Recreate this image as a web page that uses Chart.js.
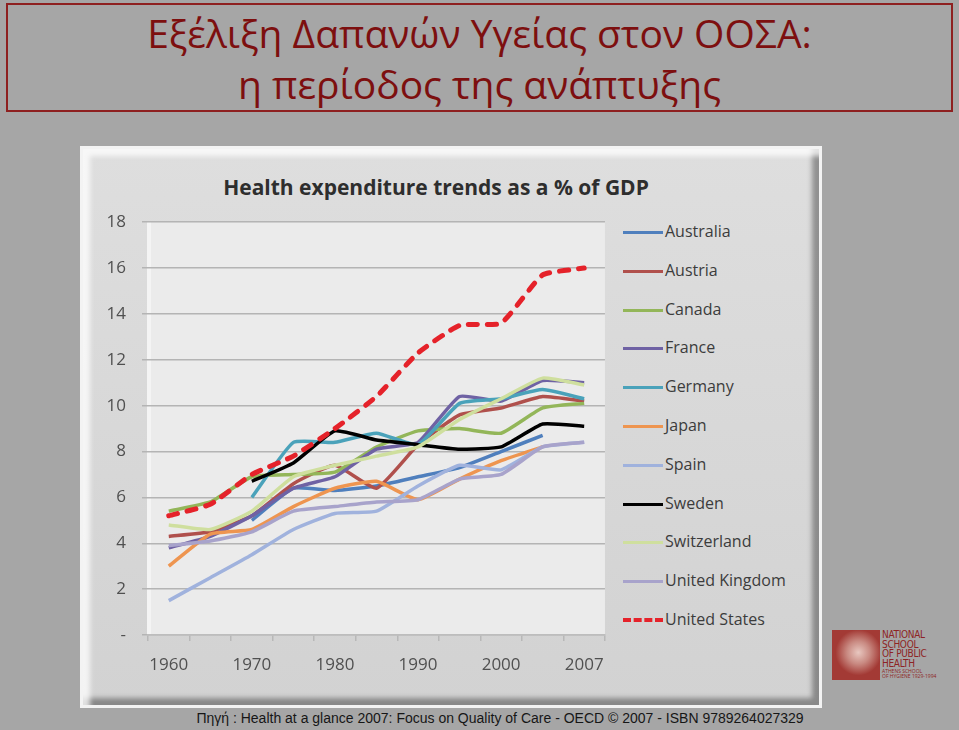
<!DOCTYPE html>
<html>
<head>
<meta charset="utf-8">
<script src="https://cdn.jsdelivr.net/npm/chart.js@4.4.1/dist/chart.umd.min.js"></script>
<style>
    body { margin: 0; width: 959px; height: 730px; overflow: hidden; background: #a6a6a6; position: relative; font-family: 'Open Sans', sans-serif; }
    .title-box { position: absolute; left: 6px; top: 3px; width: 943px; height: 105px; border: 2px solid #8e2020; }
    .title-line { position: absolute; left: 0; width: 959px; text-align: center; color: #7d0f0f; font-family: 'Open Sans', sans-serif; font-size: 39px; white-space: nowrap; }
    .frame { position: absolute; left: 80px; top: 146px; width: 742px; height: 562px; box-sizing: border-box; border: 3px solid #f3f3f3; background: linear-gradient(#dedede, #d2d2d2); box-shadow: inset 7px 7px 5px rgba(255,255,255,0.75), inset -7px -7px 5px rgba(0,0,0,0.35); }
    .chart-title { position: absolute; left: 150px; width: 572px; top: 173px; text-align: center; font-weight: bold; font-size: 21px; color: #2e2e2e; white-space: nowrap; }
    #chartBox { position: absolute; left: 96px; top: 196px; width: 522px; height: 494px; }
    .legend { position: absolute; left: 623px; top: 213px; }
    .legend-item { position: absolute; left: 0; height: 38px; width: 190px; white-space: nowrap; }
    .legend-line { position: absolute; left: 0; top: 18px; width: 40px; height: 0; border-top: 3px solid; }
    .legend-text { position: absolute; left: 42px; top: 7px; font-size: 16px; color: #3c3c3c; }
    .source { position: absolute; left: 0; width: 1000px; top: 710px; text-align: center; font-family: 'Liberation Sans', Arial, sans-serif; font-size: 14px; color: #161616; white-space: nowrap; }
    .logo { position: absolute; left: 832px; top: 630px; width: 110px; height: 50px; }
    .logo-img { position: absolute; left: 0; top: 0; width: 48px; height: 50px; background: radial-gradient(circle at 55% 45%, #e8c7c0 0, #c98a82 30%, #a33a35 60%); }
    .logo-text { position: absolute; left: 50px; top: 0; color: #8e2424; font-family: 'DejaVu Sans Condensed', 'Liberation Sans', sans-serif; font-size: 10px; line-height: 9.5px; letter-spacing: -0.3px; }
    .logo-small { position: absolute; left: 50px; top: 39px; color: #8e2424; font-size: 5px; line-height: 5px; }
</style>
</head>
<body>
<div class="title-box"></div>
<div class="title-line" style="top: 6px;">Εξέλιξη Δαπανών Υγείας στον ΟΟΣΑ:</div>
<div class="title-line" style="top: 57px;">η περίοδος της ανάπτυξης</div>

<div class="frame"></div>
<div class="chart-title">Health expenditure trends as a % of GDP</div>
<div id="chartBox"><canvas id="healthChart"></canvas></div>
<div class="legend" id="legend"></div>

<div class="logo">
    <div class="logo-img"></div>
    <div class="logo-text">NATIONAL<br>SCHOOL<br>OF PUBLIC<br>HEALTH</div>
    <div class="logo-small">ATHENS SCHOOL<br>OF HYGIENE 1929-1994</div>
</div>

<div class="source">Πηγή : Health at a glance 2007: Focus on Quality of Care - OECD © 2007 - ISBN 9789264027329</div>

<script>
// Dados (% do PIB)
const years = ['1960', '1965', '1970', '1975', '1980', '1985', '1990', '1995', '2000', '2005', '2007'];
const countries = ['Australia', 'Austria', 'Canada', 'France', 'Germany', 'Japan', 'Spain', 'Sweden', 'Switzerland', 'United Kingdom', 'United States'];
const colors = ['#4f7fbd', '#b0504c', '#93b659', '#6f62a4', '#4aa2ba', '#ee9550', '#a0b2dd', '#000000', '#cfdf9e', '#a8a3cb', '#e5222a'];

const australia = [null, null, 5.0, 6.4, 6.3, 6.5, 6.9, 7.3, 8.0, 8.7, null];
const austria = [4.3, 4.5, 5.2, 6.6, 7.4, 6.4, 8.3, 9.6, 9.9, 10.4, 10.2];
const canada = [5.4, 5.8, 6.9, 7.0, 7.1, 8.2, 8.9, 9.0, 8.8, 9.9, 10.1];
const france = [3.8, 4.3, 5.2, 6.4, 6.9, 8.1, 8.4, 10.4, 10.2, 11.1, 11.0];
const germany = [null, null, 6.0, 8.4, 8.4, 8.8, 8.3, 10.1, 10.3, 10.7, 10.3];
const japan = [3.0, 4.4, 4.6, 5.6, 6.4, 6.7, 5.9, 6.8, 7.6, 8.2, null];
const spain = [1.5, 2.5, 3.5, 4.6, 5.3, 5.4, 6.5, 7.4, 7.2, 8.2, 8.4];
const sweden = [null, null, 6.7, 7.5, 8.9, 8.5, 8.3, 8.1, 8.2, 9.2, 9.1];
const switzerland = [4.8, 4.6, 5.4, 6.9, 7.4, 7.8, 8.2, 9.4, 10.3, 11.2, 10.9];
const unitedKingdom = [3.9, 4.1, 4.5, 5.4, 5.6, 5.8, 5.9, 6.8, 7.0, 8.2, 8.4];
const unitedStates = [5.2, 5.7, 7.0, 7.8, 9.0, 10.4, 12.3, 13.5, 13.6, 15.7, 16.0];

const seriesValues = [australia, austria, canada, france, germany, japan, spain, sweden, switzerland, unitedKingdom, unitedStates];
const yTicks = [0, 2, 4, 6, 8, 10, 12, 14, 16, 18];

// Datasets
const datasets = countries.map((name, i) => {
    const isUS = name === 'United States';
    return {
        label: name,
        data: seriesValues[i],
        borderColor: colors[i],
        backgroundColor: colors[i],
        borderWidth: isUS ? 5 : 3.5,
        borderDash: isUS ? [9, 10] : [],
        borderCapStyle: isUS ? 'round' : 'butt',
        borderJoinStyle: 'round',
        tension: 0.15,
        pointRadius: 0,
        fill: false,
        spanGaps: false,
        order: countries.length - i
    };
});

// Fundo da área do gráfico
const plotBackground = {
    id: 'plotBackground',
    beforeDraw(chart) {
        const { ctx, chartArea } = chart;
        ctx.save();
        ctx.fillStyle = '#ebebeb';
        ctx.fillRect(chartArea.left, chartArea.top, chartArea.right - chartArea.left, chartArea.bottom - chartArea.top);
        ctx.fillStyle = '#f4f4f4';
        ctx.fillRect(chartArea.left - 1, chartArea.top, 4, chartArea.bottom - chartArea.top);
        ctx.restore();
    }
};

const ctx = document.getElementById('healthChart').getContext('2d');
new Chart(ctx, {
    type: 'line',
    data: { labels: years, datasets: datasets },
    options: {
        responsive: true,
        maintainAspectRatio: false,
        animation: false,
        layout: { padding: { top: 16, right: 8, bottom: 0, left: 0 } },
        plugins: {
            legend: { display: false },
            tooltip: { enabled: false }
        },
        scales: {
            x: {
                type: 'category',
                offset: true,
                afterFit: function(scale) { scale.height = 55; },
                grid: {
                    offset: true,
                    drawOnChartArea: false,
                    drawTicks: true,
                    tickLength: 6,
                    color: '#b8b8b8',
                    lineWidth: 1.5
                },
                border: { display: true, color: '#bdbdbd', width: 1.5 },
                ticks: {
                    autoSkip: false,
                    maxRotation: 0,
                    padding: 14,
                    color: '#505050',
                    font: { family: 'Open Sans', size: 17 },
                    callback: function(value, index) {
                        return (index % 2 === 0) ? years[index] : '';
                    }
                }
            },
            y: {
                min: 0,
                max: 18,
                afterFit: function(scale) { scale.width = 52; },
                afterBuildTicks: function(scale) {
                    scale.ticks = yTicks.map(v => ({ value: v }));
                },
                grid: {
                    color: '#b4b4b4',
                    lineWidth: 1.5,
                    tickLength: 6
                },
                border: { display: false },
                ticks: {
                    padding: 16,
                    color: '#505050',
                    font: { family: 'Open Sans', size: 17 },
                    callback: function(value) {
                        return value === 0 ? '-' : value;
                    }
                }
            }
        }
    },
    plugins: [plotBackground]
});

// Legenda em HTML
const legend = document.getElementById('legend');
countries.forEach((name, i) => {
    const item = document.createElement('div');
    item.className = 'legend-item';
    item.style.top = (i * 38.8) + 'px';
    const dash = name === 'United States';
    item.innerHTML = `
        <div class="legend-line" style="border-top-color: ${colors[i]}; border-top-style: ${dash ? 'dashed' : 'solid'}; ${dash ? 'border-top-width: 4px; top: 17px;' : ''}"></div>
        <div class="legend-text">${name}</div>
    `;
    legend.appendChild(item);
});
</script>
</body>
</html>
